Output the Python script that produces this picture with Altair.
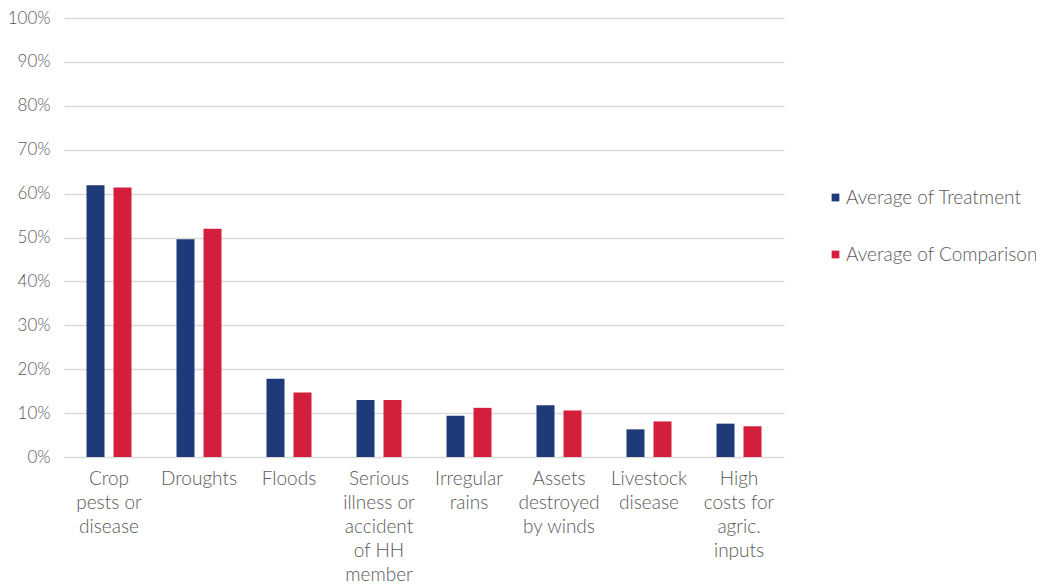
import altair as alt
import pandas as pd

categories = [
    "Crop|pests or|disease",
    "Droughts",
    "Floods",
    "Serious|illness or|accident|of HH|member",
    "Irregular|rains",
    "Assets|destroyed|by winds",
    "Livestock|disease",
    "High|costs for|agric.|inputs",
]
treatment = [61.9, 49.6, 17.8, 13.0, 9.4, 11.8, 6.3, 7.6]
comparison = [61.4, 52.0, 14.7, 13.0, 11.2, 10.6, 8.1, 7.0]
series = ["Average of Treatment", "Average of Comparison"]
colors = ["#1f3a78", "#d31f3c"]

rows = []
for c, t, m in zip(categories, treatment, comparison):
    rows.append({"cat": c, "series": series[0], "value": t / 100})
    rows.append({"cat": c, "series": series[1], "value": m / 100})
df = pd.DataFrame(rows)

FONT = "Lato"
GRAY = "#595959"

chart = (
    alt.Chart(df)
    .mark_bar()
    .encode(
        x=alt.X(
            "cat:N",
            sort=categories,
            scale=alt.Scale(paddingInner=0.5, paddingOuter=0.25),
            axis=alt.Axis(
                title=None,
                labelAngle=0,
                labelExpr="split(datum.label, '|')",
                labelFont=FONT,
                labelFontSize=19,
                labelFontWeight=300,
                labelColor=GRAY,
                labelLineHeight=24,
                labelPadding=12,
                ticks=False,
                domain=False,
                grid=False,
                labelLimit=200,
            ),
        ),
        xOffset=alt.XOffset(
            "series:N",
            sort=series,
            scale=alt.Scale(paddingInner=1 / 3, paddingOuter=0),
        ),
        y=alt.Y(
            "value:Q",
            scale=alt.Scale(domain=[0, 1], nice=False),
            axis=alt.Axis(
                title=None,
                format=".0%",
                values=[i / 10 for i in range(11)],
                labelFont=FONT,
                labelFontSize=17,
                labelFontWeight=300,
                labelColor=GRAY,
                labelPadding=14,
                ticks=False,
                domain=False,
                gridColor="#d9d9d9",
                gridWidth=1.5,
            ),
        ),
        color=alt.Color(
            "series:N",
            sort=series,
            scale=alt.Scale(domain=series, range=colors),
            legend=alt.Legend(
                title=None,
                orient="none",
                legendX=762,
                legendY=170,
                symbolType="square",
                symbolSize=60,
                labelFont=FONT,
                labelFontSize=19,
                labelFontWeight=300,
                labelColor=GRAY,
                rowPadding=37,
                labelOffset=1,
                labelLimit=300,
            ),
        ),
    )
    .properties(
        width=720,
        height=439,
        autosize=alt.AutoSizeParams(type="none"),
        padding={"left": 56, "top": 10, "right": 252, "bottom": 127},
    )
    .configure(background="white")
    .configure_view(stroke=None)
)

chart.save("out.html", embed_options={"renderer": "svg", "actions": False})
